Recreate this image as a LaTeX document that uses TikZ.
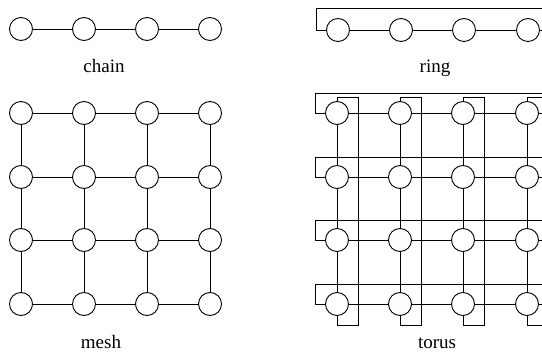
\documentclass[tikz,border=0pt]{standalone}
\usepackage{fontspec}
\setmainfont{Liberation Serif}
\begin{document}
\begin{tikzpicture}[x=1pt,y=-1pt,
  nd/.style={circle,draw,minimum size=23pt,inner sep=0pt,line width=0.9pt},
  ln/.style={line width=0.9pt},
  lbl/.style={anchor=base,font=\fontsize{19}{22}\selectfont}]
\useasboundingbox (0,0) rectangle (542,359);
\clip (0,0) rectangle (542,359);
% chain
\foreach \i/\x in {1/21,2/84,3/147,4/210} \node[nd] (c\i) at (\x,29) {};
\draw[ln] (c1)--(c2) (c2)--(c3) (c3)--(c4);
\node[lbl] (lchain) at (104,72) {chain};
% ring
\foreach \i/\x in {1/338,2/401,3/464,4/528} \node[nd] (r\i) at (\x,30) {};
\draw[ln] (r1)--(r2) (r2)--(r3) (r3)--(r4);
\coordinate (rwl) at (316,30);
\coordinate (rwe) at (570,8);
\coordinate (rwd) at (570,30);
\draw[ln] (r1.west) -- (rwl) |- (rwe) -- (rwd) -- (r4.east);
\node[lbl] (lring) at (435,72) {ring};
% mesh
\foreach \r/\y in {1/113,2/177,3/240,4/304}
  \foreach \c/\x in {1/21,2/84,3/147,4/210}
    \node[nd] (m-\r-\c) at (\x,\y) {};
\foreach \r in {1,...,4}{
  \draw[ln] (m-\r-1)--(m-\r-2) (m-\r-2)--(m-\r-3) (m-\r-3)--(m-\r-4);
  \draw[ln] (m-1-\r)--(m-2-\r) (m-2-\r)--(m-3-\r) (m-3-\r)--(m-4-\r);
}
\node[lbl] (lmesh) at (101,348) {mesh};
% torus
\foreach \r/\y in {1/113,2/177,3/240,4/304}
  \foreach \c/\x in {1/337,2/400,3/463,4/527}
    \node[nd] (t-\r-\c) at (\x,\y) {};
\foreach \r in {1,...,4}{
  \draw[ln] (t-\r-1)--(t-\r-2) (t-\r-2)--(t-\r-3) (t-\r-3)--(t-\r-4);
  \draw[ln] (t-1-\r)--(t-2-\r) (t-2-\r)--(t-3-\r) (t-3-\r)--(t-4-\r);
}
\foreach \r/\y in {1/113,2/177,3/240,4/304}{
  \coordinate (tl\r) at (315,\y);
  \coordinate (te\r) at (570,\y-20);
  \draw[ln] (t-\r-1.west) -- (tl\r) |- (te\r);
  \draw[ln] (t-\r-4.east) -- (570,\y);
}
\foreach \c/\x in {1/337,2/400,3/463,4/527}{
  \coordinate (ct\c) at (\x+21,97);
  \coordinate (cb\c) at (\x+21,325);
  \draw[ln] (t-1-\c.north) |- (ct\c) -- (cb\c) -| (t-4-\c.south);
}
\node[lbl] (ltorus) at (437,348) {torus};
\end{tikzpicture}
\end{document}
